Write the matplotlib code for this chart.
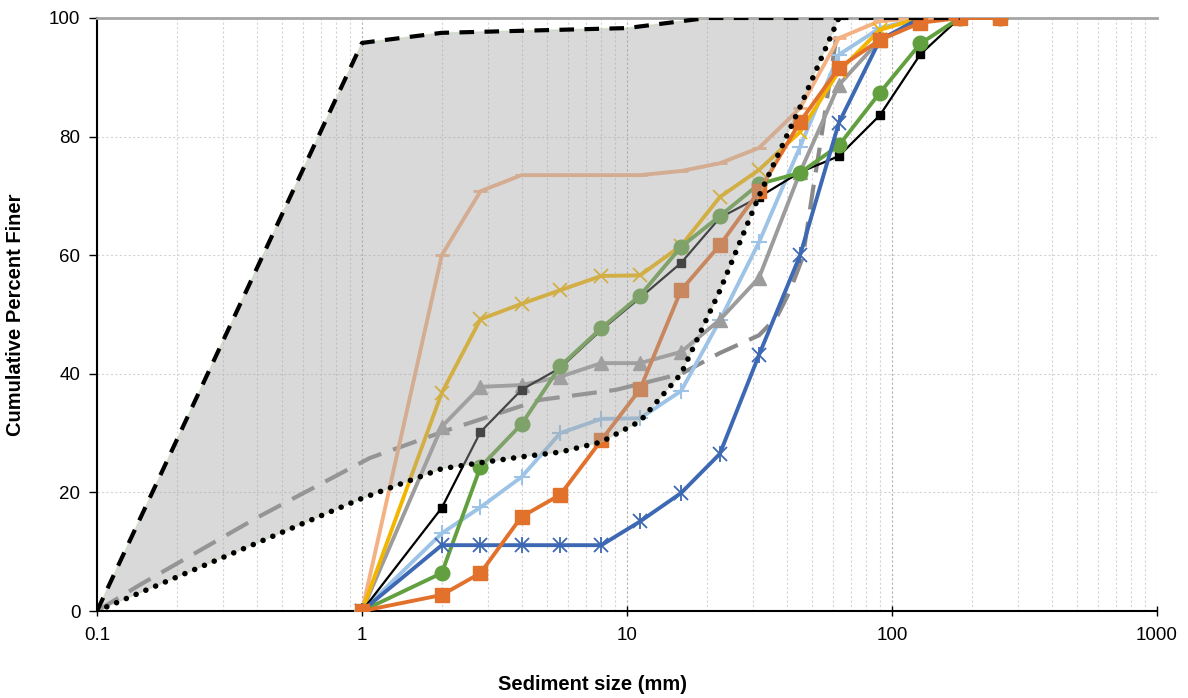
import matplotlib
matplotlib.use("Agg")
import matplotlib.pyplot as plt
from matplotlib.ticker import FixedLocator, FixedFormatter, NullFormatter, LogLocator

plt.rcParams['font.family'] = ['Liberation Sans', 'DejaVu Sans']

# ---------------- data ----------------
sizes = [1, 2, 2.8, 4, 5.6, 8, 11.2, 16, 22.4, 31.5, 45, 63, 90, 128, 180, 256]

orange_vals = [0, 2.7, 6.4, 15.9, 19.6, 28.8, 37.4, 54.1, 61.7, 70.8, 82.5, 91.6, 96.3, 99.2, 100, 100]
blue_vals = [0, 11.1, 11.1, 11.1, 11.1, 11.1, 15.1, 19.9, 26.5, 43.2, 60.0, 82.3, 96.3, 100]
green_vals = [0, 6.4, 24.3, 31.5, 41.3, 47.7, 53.2, 61.4, 66.6, 72.0, 73.9, 78.5, 87.4, 95.7, 100, 100]
black_vals = [0, 17.4, 30.2, 37.3, 41.0, 47.4, 52.8, 58.7, 66.3, 69.8, 74.0, 76.7, 83.6, 93.9, 100]
gray_vals = [0, 31.1, 37.8, 38.1, 39.5, 41.8, 41.8, 43.7, 49.1, 56.2, 74.0, 88.7, 96.3, 99.5]
yellow_vals = [0, 36.8, 49.2, 51.8, 54.1, 56.5, 56.6, 61.6, 69.8, 74.4, 80.8, 91.0, 98.0, 100]
lightblue_vals = [0, 13.1, 17.5, 22.6, 30.0, 32.4, 32.5, 37.1, 49.0, 62.2, 78.3, 93.8, 98.3, 100]
salmon_vals = [0, 60.0, 70.8, 73.5, 73.5, 73.5, 73.5, 74.2, 75.5, 78.1, 84.8, 96.6, 99.5, 100, 100, 100]

# fitted / reference curve (long dash)
dash_x = [0.1, 0.145, 0.4, 1.07, 2.1, 4.7, 9.1, 16, 22.4, 31.5, 36.8, 41.2, 46.1, 50.3, 53.5, 62.5]
dash_y = [0, 4.4, 15.7, 25.8, 30.5, 35.6, 37.3, 40.0, 43.5, 46.5, 49.6, 54.0, 59.7, 71.0, 78.5, 98.5]

# envelope
upper_x = [0.1, 1, 2, 10, 20, 63, 180]
upper_y = [0, 95.8, 97.5, 98.3, 100, 100, 100]
lower_x = [0.1, 1, 2, 2.8, 4, 5.6, 8, 11.2, 16, 22.4, 31.5, 45, 63]
lower_y = [0, 19.0, 24.0, 25.0, 26.0, 26.8, 28.5, 32.0, 40.0, 54.0, 70.0, 85.0, 100]

x_ticks = [0.1, 1, 10, 100, 1000]
x_tick_labels = ["0.1", "1", "10", "100", "1000"]
y_ticks = [0, 20, 40, 60, 80, 100]

# ---------------- figure ----------------
fig = plt.figure(figsize=(11.88, 6.98), dpi=100)
ax = fig.add_axes([97/1188, 1-611/698, 1060/1188, 593/698])
ax.set_xscale('log')
ax.set_xlim(0.1, 1000)
ax.set_ylim(0, 100)

# grid
ax.xaxis.set_minor_locator(LogLocator(base=10, subs=range(2, 10)))
ax.xaxis.set_minor_formatter(NullFormatter())
ax.grid(True, which='major', axis='x', color='#b0b0b0', ls=(0, (2, 2)), lw=0.8, zorder=0)
ax.grid(True, which='minor', axis='x', color='#d4d4d4', ls=(0, (2, 2)), lw=0.8, zorder=0)
ax.grid(True, which='major', axis='y', color='#d4d4d4', ls=(0, (2, 2)), lw=0.8, zorder=0)
ax.set_axisbelow(True)


def n(vals):
    return sizes[:len(vals)]

# series
ax.plot(dash_x, dash_y, color='#8a8a8a', lw=3.0, ls=(0, (6, 3)), zorder=2)

ax.plot(n(lightblue_vals), lightblue_vals, color='#9DC3E6', lw=2.8, marker='+', ms=11, mew=1.5, zorder=3)
ax.plot(n(salmon_vals), salmon_vals, color='#F4B183', lw=2.8, marker='_', ms=10, mew=2, zorder=3)
ax.plot(n(gray_vals), gray_vals, color='#9c9c9c', lw=2.8, marker='^', ms=10, zorder=3)
ax.plot(n(yellow_vals), yellow_vals, color='#F2B600', lw=2.8, marker='x', ms=10, mew=1.3, zorder=3)
ax.plot(n(black_vals), black_vals, color='black', lw=1.6, marker='s', ms=6, zorder=3)
ax.plot(n(green_vals), green_vals, color='#62A03F', lw=2.8, marker='o', ms=10.5, zorder=3)
ax.plot(n(blue_vals), blue_vals, color='#3D68B3', lw=2.8, marker='x', ms=10, mew=1.3, zorder=3)
ax.plot(n(blue_vals), blue_vals, color='#3D68B3', lw=0, marker='|', ms=12, mew=1.3, zorder=3)
ax.plot(n(orange_vals), orange_vals, color='#E2712C', lw=2.8, marker='s', ms=10, zorder=3)

# shaded envelope
poly_x = upper_x[:6] + lower_x[::-1]
poly_y = upper_y[:6] + lower_y[::-1]
ax.fill(poly_x, poly_y, facecolor='#a6a6a6', alpha=0.42, edgecolor='#b5d5a0', lw=1.0, zorder=4)

# lower envelope (dotted)
ax.plot(lower_x, lower_y, color='black', lw=4.0, ls=(0, (0.01, 1.9)), dash_capstyle='round',
        zorder=4.5)

# upper envelope (dashed)
ax.plot(upper_x, upper_y, color='black', lw=3.0, ls=(0, (3.5, 2.5)), zorder=5)

# axes styling
ax.spines['right'].set_visible(False)
ax.spines['top'].set_color('#a6a6a6')
ax.spines['top'].set_linewidth(2)
ax.spines['left'].set_linewidth(1.5)
ax.spines['bottom'].set_linewidth(1.5)

ax.xaxis.set_major_locator(FixedLocator(x_ticks))
ax.xaxis.set_major_formatter(FixedFormatter(x_tick_labels))
ax.set_yticks(y_ticks)
ax.tick_params(axis='x', which='major', direction='inout', length=7, width=1, labelsize=13.5, pad=8)
ax.tick_params(axis='x', which='minor', length=0)
ax.tick_params(axis='y', which='major', direction='out', length=6, width=1, labelsize=13.5, pad=6)

ax.set_xlabel('Sediment size (mm)', fontsize=14.5, fontweight='bold')
ax.xaxis.set_label_coords((592-97)/1060, -(685-611)/593)
ax.xaxis.label.set_va('center')
ax.set_ylabel('Cumulative Percent Finer', fontsize=14.5, fontweight='bold')
ax.yaxis.set_label_coords((16-97)/1060, 0.5)
ax.yaxis.label.set_va('center')

fig.savefig('out.png', dpi=100)
